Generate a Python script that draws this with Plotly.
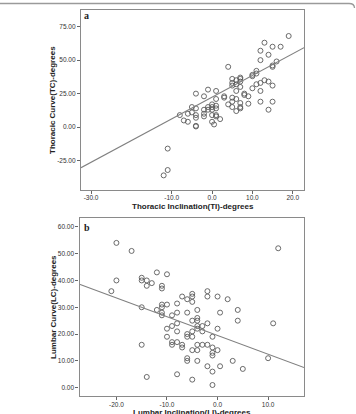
import numpy as np
import plotly.graph_objects as go

# Panel a: Thoracic Inclination (TI) vs Thoracic Curve (TC)
ti = [-12, -11, -11, -8, -7, -6, -6, -5, -5, -4, -4, -4, -4, -4, -4,
      -2, -2, -2, -2, -1, -1, -1, 0, 0, 0, 0, 0, 0.5,
      1, 1, 1, 1, 1, 1, 2, 3, 3, 4, 4,
      5, 5, 5, 5, 5, 5, 6, 6, 6, 6, 6,
      7, 7, 7, 7, 7, 7, 7, 8, 8, 9, 9,
      10, 10, 10, 11, 11, 11, 12, 12, 12, 12, 12,
      13, 13, 14, 14, 14, 15, 15, 15, 15, 15, 16, 17, 19]
tc = [-36, -32, -16, 9, 5, 10, 4, 15, 11, 25, 14, 9, 7, 1, 0.5,
      23, 13, 10, 8, 28, 15, 13, 17, 15, 13, 9, 4, 2,
      27, 21, 16, 14, 9, 8, 6, 23, 22, 45, 17,
      36, 33, 31, 22, 19, 15, 35, 32, 27, 21, 12,
      37, 36, 34, 30, 18, 15, 14, 25, 24, 23, 17.5,
      39, 38, 29, 42, 40, 32, 57, 50, 33, 27, 19,
      63, 35, 54, 34, 13, 60, 46, 45, 31, 19, 49, 60, 68]
# fitted line: TC = slope * TI + intercept
a_fit = [1.62, 22.4]

# Panel b: Lumbar Inclination (LI) vs Lumbar Curve (LC)
li = [-21, -20, -20, -17, -15, -15, -15, -15, -14, -14, -14, -13,
      -12, -12, -11, -11, -11, -11, -11, -11,
      -10, -10, -10, -10, -9, -9, -9, -9,
      -8, -8, -8, -8, -8, -8, -7, -7, -7,
      -6, -6, -6, -6, -6, -6,
      -5, -5, -5, -5, -5, -5, -5, -5,
      -4, -4, -4, -4, -4, -4, -4, -4,
      -3, -3, -3, -2, -2, -2, -2, -2,
      -1, -1, -1, -1, -1, -1, 0, 0, 0, 0.5, 0.5,
      2, 3, 4, 4, 5, 10, 11, 12]
lc = [36, 54, 40, 51, 41, 40, 30, 16, 40, 38, 4, 39,
      43, 29, 38, 37, 31, 30, 28, 27,
      42.3, 31, 22, 19, 27, 23, 17, 16,
      31.4, 28, 24, 21, 17, 5, 34, 16, 15,
      33, 28, 20, 19, 11, 10,
      35, 34, 32, 25, 21, 19, 14, 3,
      29, 26, 25, 23, 22, 16, 14, 10,
      23, 21, 16, 36, 34, 24, 16, 8,
      19, 15, 13, 12, 6, 1, 34, 22, 14, 28, 8,
      33, 10, 29, 25, 7, 11, 24, 52]
# fitted line: LC = slope * LI + intercept
b_fit = [-0.70, 19.5]

# axis settings (ranges and tick labels)
a_xrange = [-32.5, 22.8]
a_yrange = [-46.9, 87.4]
a_xticks = [-30, -10, 0, 10, 20]
a_xticktext = ["-30.0", "-10.0", "0.0", "10.0", "20.0"]
a_yticks = [-25, 0, 25, 50, 75]
a_yticktext = ["-25.00", "0.00", "25.00", "50.00", "75.00"]

b_xrange = [-27.3, 17.1]
b_yrange = [-3.1, 63.4]
b_xticks = [-20, -10, 0, 10]
b_xticktext = ["-20.0", "-10.0", "0.0", "10.0"]
b_yticks = [0, 10, 20, 30, 40, 50, 60]
b_yticktext = ["0.00", "10.00", "20.00", "30.00", "40.00", "50.00", "60.00"]

W, H = 356, 414
def px(x): return x / W
def py(y): return 1 - y / H

fig = go.Figure()

marker = dict(symbol="circle-open", size=5, color="#5a5a5a", line=dict(width=0.9, color="#5a5a5a"))
linestyle = dict(color="#808080", width=1.1)

# Panel a
xa = np.array(a_xrange)
fig.add_trace(go.Scatter(x=ti, y=tc, mode="markers", marker=marker, xaxis="x", yaxis="y", showlegend=False))
fig.add_trace(go.Scatter(x=xa, y=a_fit[0] * xa + a_fit[1], mode="lines", line=linestyle,
                         xaxis="x", yaxis="y", showlegend=False))

# Panel b
xb = np.array(b_xrange)
fig.add_trace(go.Scatter(x=li, y=lc, mode="markers", marker=marker, xaxis="x2", yaxis="y2", showlegend=False))
fig.add_trace(go.Scatter(x=xb, y=b_fit[0] * xb + b_fit[1], mode="lines", line=linestyle,
                         xaxis="x2", yaxis="y2", showlegend=False))

tickfont = dict(family="Liberation Sans, Arial, sans-serif", size=6.5, color="#333333")
axcommon = dict(showgrid=False, zeroline=False, showline=True, mirror=True,
                linecolor="#8a8a8a", linewidth=1.2, ticks="outside", ticklen=3,
                tickcolor="#666666", tickwidth=1, tickfont=tickfont)

fig.update_layout(
    width=W, height=H, margin=dict(l=0, r=0, t=0, b=0),
    paper_bgcolor="white", plot_bgcolor="white",
    xaxis=dict(domain=[px(81), px(304)], anchor="y", range=a_xrange,
               tickvals=a_xticks, ticktext=a_xticktext, ticklabelstandoff=-2, **axcommon),
    yaxis=dict(domain=[py(190), py(10)], anchor="x", range=a_yrange,
               tickvals=a_yticks, ticktext=a_yticktext, **axcommon),
    xaxis2=dict(domain=[px(79.5), px(304)], anchor="y2", range=b_xrange,
                tickvals=b_xticks, ticktext=b_xticktext, ticklabelstandoff=-1, **axcommon),
    yaxis2=dict(domain=[py(396), py(217.7)], anchor="x2", range=b_yrange,
                tickvals=b_yticks, ticktext=b_yticktext, **axcommon),
)

titlefont = dict(family="Liberation Sans, Arial, sans-serif", size=8, color="#222222")
labelfont = dict(family="Liberation Serif, Times New Roman, serif", size=10, color="#222222")
ann = [
    dict(text="<b>Thoracic Inclination(TI)-degrees</b>", x=px(192.5), y=py(206), font=titlefont),
    dict(text="<b>Thoracic Curve(TC)-degrees</b>", x=px(53), y=py(100), textangle=-90, font=titlefont),
    dict(text="<b>Lumbar Inclination(LI)-degrees</b>", x=px(192), y=py(412), font=titlefont),
    dict(text="<b>Lumbar Curve(LC)-degrees</b>", x=px(53), y=py(307), textangle=-90, font=titlefont),
    dict(text="<b>a</b>", x=px(86.5), y=py(16), font=labelfont),
    dict(text="<b>b</b>", x=px(87), y=py(227), font=labelfont),
]
for a in ann:
    fig.add_annotation(xref="paper", yref="paper", showarrow=False,
                       xanchor="center", yanchor="middle", **a)

# outer frame (top edge with rounded right corner)
fig.add_shape(type="path", xref="paper", yref="paper",
              path=f"M 0 {py(3.5)} L {px(349)} {py(3.5)} Q {px(354.5)} {py(3.5)} {px(354.5)} {py(8)}",
              line=dict(color="#9a9a9a", width=1.3))

fig.write_html("out.html")
